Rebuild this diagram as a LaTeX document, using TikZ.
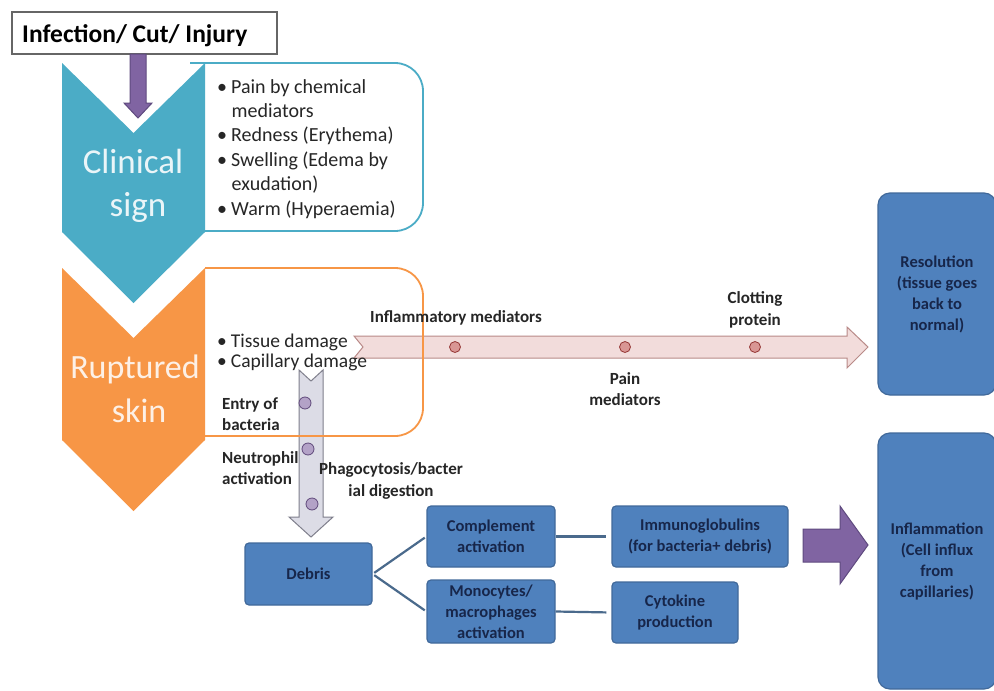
\documentclass[tikz,border=0pt]{standalone}
\usepackage{fontspec}
\setmainfont{Carlito}
\usetikzlibrary{calc}
\definecolor{aqua}{HTML}{4BACC6}
\definecolor{orng}{HTML}{F79646}
\definecolor{boxblue}{HTML}{4F81BD}
\definecolor{boxedge}{HTML}{41699A}
\definecolor{navy}{HTML}{17264A}
\definecolor{purp}{HTML}{8064A2}
\definecolor{purpedge}{HTML}{5F4A7F}
\definecolor{pinkfill}{HTML}{F2DCDB}
\definecolor{pinkedge}{HTML}{B98A88}
\definecolor{dotfill}{HTML}{D99694}
\definecolor{dotedge}{HTML}{953735}
\definecolor{grayfill}{HTML}{DCDCE6}
\definecolor{grayedge}{HTML}{7F7F8C}
\definecolor{lavfill}{HTML}{B3A2C7}
\definecolor{lavedge}{HTML}{604A7B}
\definecolor{linec}{HTML}{4A6A8C}
\definecolor{txt}{HTML}{262626}
\definecolor{lighttxt}{HTML}{EAF5F8}
\definecolor{lighttxtb}{HTML}{FDF0E6}
\begin{document}
\begin{tikzpicture}[x=1pt,y=-1pt,
  bbox/.style={draw=boxedge, line width=1.2pt, fill=boxblue, rounded corners=4pt,
    text=navy, font=\fontsize{16.5}{21}\selectfont\bfseries, align=center, inner sep=0pt},
  bigbox/.style={bbox, rounded corners=12pt},
  lbl/.style={font=\fontsize{17}{21.5}\selectfont\bfseries, text=txt, align=center, inner sep=0pt},
  lbll/.style={lbl, align=left, anchor=west},
  bul/.style={font=\fontsize{20}{24}\selectfont, text=txt, anchor=base west, inner sep=0pt},
  bulo/.style={font=\fontsize{19.5}{22}\selectfont, text=txt, anchor=base west, inner sep=0pt},
  chevtxt/.style={anchor=base, inner sep=0pt},
  pdot/.style={circle, draw=dotedge, fill=dotfill, line width=0.8pt, minimum size=11pt, inner sep=0pt},
  gdot/.style={circle, draw=lavedge, fill=lavfill, line width=0.8pt, minimum size=12pt, inner sep=0pt},
  conn/.style={draw=linec, line width=2.2pt},
  bigarrow/.style={line width=1pt, line join=miter}
]
\useasboundingbox (0,0) rectangle (994,691);
\clip (0,0) rectangle (994,691);
\fill[white] (0,0) rectangle (994,691);

% Infection box
\node[draw=gray!80!black, line width=1.5pt, fill=white, minimum width=265pt, minimum height=42pt, inner sep=0pt] (inf) at (144.5,33) {};
\node[font=\fontsize{25.5}{30}\selectfont\bfseries, text=black, anchor=base west, inner sep=0pt] (inft) at (22,42) {Infection/ Cut/ Injury};

% Blue box + chevron
\draw[draw=aqua, line width=1.8pt, rounded corners=28pt, fill=white] (190,63) -- (423,63) -- (423,231) -- (190,231);
\fill[aqua] (62,63) -- (133.5,133) -- (205,63) -- (205,232) -- (133.5,303) -- (62,232) -- cycle;
\node[chevtxt, font=\fontsize{35}{40}\selectfont, text=lighttxt] (cl1) at (133,173) {Clinical};
\node[chevtxt, font=\fontsize{35}{40}\selectfont, text=lighttxt] (cl2) at (138,216) {sign};

% purple down arrow
\draw[bigarrow, draw=purpedge, fill=purp] (130,54) -- (146,54) -- (146,103) -- (152,103) -- (138,118) -- (124,103) -- (130,103) -- cycle;

% blue bullet text
\node[bul] (b1) at (217,93) {•\hspace{4pt}Pain by chemical};
\node[bul] (b1b) at (231.5,117.4) {mediators};
\node[bul] (b2) at (217,141.8) {•\hspace{4pt}Redness (Erythema)};
\node[bul] (b3) at (217,166.2) {•\hspace{4pt}Swelling (Edema by};
\node[bul] (b3b) at (231.5,190.6) {exudation)};
\node[bul] (b4) at (217,215) {•\hspace{4pt}Warm (Hyperaemia)};

% Orange chevron
\fill[orng] (62,268) -- (133.5,338) -- (205,268) -- (205,440) -- (133.5,511) -- (62,440) -- cycle;
\node[chevtxt, font=\fontsize{34}{36}\selectfont, text=lighttxtb] (ru1) at (135,378) {Ruptured};
\node[chevtxt, font=\fontsize{34}{36}\selectfont, text=lighttxtb] (ru2) at (139,422) {skin};

% pink arrow
\draw[bigarrow, draw=pinkedge, fill=pinkfill] (354,336) -- (847,336) -- (847,327) -- (868,347) -- (847,368) -- (847,358) -- (354,358) -- (363,347) -- cycle;
\node[pdot] (p1) at (455,347) {};
\node[pdot] (p2) at (625,347) {};
\node[pdot] (p3) at (755,347) {};

% gray arrow
\draw[bigarrow, draw=grayedge, fill=grayfill] (299,370) -- (311,381) -- (323,370) -- (323,517) -- (333,517) -- (311,537) -- (289,517) -- (299,517) -- cycle;
\node[gdot] (g1) at (305,403) {};
\node[gdot] (g2) at (308,449) {};
\node[gdot] (g3) at (312,504) {};

% orange box outline on top
\draw[draw=orng, line width=1.8pt, rounded corners=28pt] (205,268) -- (423,268) -- (423,436) -- (205,436);

% orange bullet text
\node[bulo] (o1) at (217,347) {•\hspace{4pt}Tissue damage};
\node[bulo] (o2) at (217,367.5) {•\hspace{4pt}Capillary damage};

% labels
\node[lbl] (lim) at (456,318) {Inflammatory mediators};
\node[lbl] (lcp) at (755,310) {Clotting\\protein};
\node[lbl] (lpm) at (625,389) {Pain\\mediators};
\node[lbll] (leb) at (222,414) {Entry of\\bacteria};
\node[lbll] (lna) at (222,468) {Neutrophil\\activation};
\node[lbl] (lph) at (391,481) {Phagocytosis/bacter\\ial digestion};

% blue boxes
\node[bbox, minimum width=127pt, minimum height=62pt] (debris) at (308.5,574) {Debris};
\node[bbox, minimum width=128pt, minimum height=61pt] (comp) at (491,536.5) {Complement\\activation};
\node[bbox, minimum width=128pt, minimum height=63pt] (mono) at (491,611.5) {Monocytes/\\macrophages\\activation};
\node[bbox, minimum width=176pt, minimum height=61pt] (immu) at (700,536.5) {Immunoglobulins\\(for bacteria+ debris)};
\node[bbox, minimum width=126pt, minimum height=61pt] (cyto) at (675,612.5) {Cytokine\\production};
\node[bigbox, minimum width=118pt, minimum height=202pt] (reso) at (937,294) {Resolution\\(tissue goes\\back to\\normal)};
\node[bigbox, minimum width=118pt, minimum height=256pt] (infl) at (937,561) {Inflammation\\(Cell influx\\from\\capillaries)};

% connectors
\draw[conn, shorten <=2pt, shorten >=2pt] (debris.east) -- (comp.west);
\draw[conn, shorten <=2pt, shorten >=2pt] (debris.east) -- (mono.west);
\draw[conn, shorten >=5pt] (comp.east) -- (immu.west);
\draw[conn, shorten >=5pt] (mono.east) -- (cyto.west);

% purple right arrow
\draw[bigarrow, draw=purpedge, fill=purp] (803,529) -- (840,529) -- (840,506) -- (868,545) -- (840,584) -- (840,562) -- (803,562) -- cycle;
\end{tikzpicture}
\end{document}
